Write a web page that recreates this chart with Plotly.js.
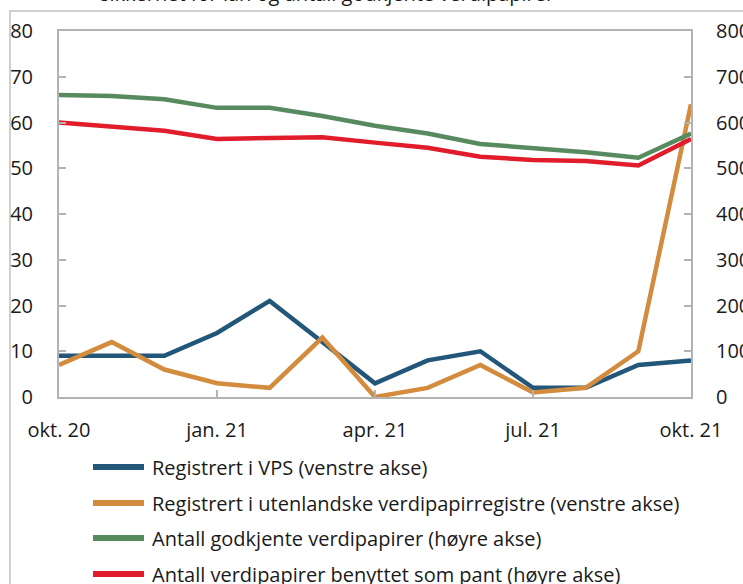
<!DOCTYPE html>
<html>
<head>
<meta charset="utf-8">
<script src="https://cdn.plot.ly/plotly-3.0.1.min.js"></script>
<style>html,body{margin:0;padding:0;background:#fff;}#chart{width:743px;height:584px;}</style>
</head>
<body>
<div id="chart"></div>
<script>
// Data
const months = ["okt. 20","nov. 20","des. 20","jan. 21","feb. 21","mar. 21","apr. 21","mai 21","jun. 21","jul. 21","aug. 21","sep. 21","okt. 21"];
const tickMonths = ["okt. 20","jan. 21","apr. 21","jul. 21","okt. 21"];
const registrertVPS = [9, 9, 9, 14, 21, 12, 3, 8, 10, 2, 2, 7, 8];
const registrertUtenlandske = [7, 12, 6, 3, 2, 13, 0, 2, 7, 1, 2, 10, 64];
const antallGodkjente = [660, 658, 651, 632, 632, 614, 593, 576, 553, 545, 535, 523, 576];
const antallPant = [600, 591, 582, 564, 565, 568, 556, 545, 525, 518, 516, 506, 564];
const seriesNames = [
  "Registrert i VPS (venstre akse)",
  "Registrert i utenlandske verdipapirregistre (venstre akse)",
  "Antall godkjente verdipapirer (høyre akse)",
  "Antall verdipapirer benyttet som pant (høyre akse)"
];
const seriesColors = ["#22577a", "#d38b3d", "#578a5e", "#e11d2b"];
const titleLine = "sikkerhet for lån og antall godkjente verdipapirer";

const font = "'Open Sans', 'Noto Sans', sans-serif";
const axisGray = "#b3b3b3";
const textColor = "#1a1a1a";

// plot-area geometry in pixels (for converting legend/frame placement to paper coords)
const W = 743, H = 584, L = 59, R = 691, T = 31, B = 397;
const px = v => (v - L) / (R - L);
const py = v => (B - v) / (B - T);

function tr(y, i, axis) {
  return {
    x: months, y: y, name: seriesNames[i], yaxis: axis, type: "scatter", mode: "lines",
    showlegend: false,
    line: {color: seriesColors[i], width: 4.5},
    hoverinfo: "skip"
  };
}
const data = [
  tr(registrertVPS, 0, "y"),
  tr(registrertUtenlandske, 1, "y"),
  tr(antallGodkjente, 2, "y2"),
  tr(antallPant, 3, "y2")
];

// legend drawn as shapes + annotations
const legendRows = [467, 503, 538, 574];
const legendShapes = seriesNames.map((n, i) => ({
  type: "line", xref: "paper", yref: "paper",
  x0: px(93), x1: px(144), y0: py(legendRows[i]), y1: py(legendRows[i]),
  line: {color: seriesColors[i], width: 6}
}));
const legendAnns = seriesNames.map((n, i) => ({
  text: n, xref: "paper", yref: "paper",
  x: px(150), xanchor: "left", y: py(legendRows[i]), yanchor: "middle",
  showarrow: false, font: {family: font, size: 20, color: textColor}
}));

const tickFont = {family: font, size: 20, color: textColor};

const layout = {
  width: W, height: H,
  margin: {l: L, r: W - R, t: T, b: H - B, pad: 0},
  paper_bgcolor: "#ffffff", plot_bgcolor: "#ffffff",
  font: {family: font, size: 20, color: textColor},
  showlegend: false,
  xaxis: {
    type: "category",
    range: [0, 12],
    tickmode: "array", tickvals: tickMonths, ticktext: tickMonths,
    ticks: "inside", ticklen: 7, tickwidth: 2, tickcolor: axisGray,
    showline: true, linecolor: axisGray, linewidth: 2, mirror: true,
    showgrid: false, zeroline: false,
    ticklabelstandoff: 14,
    tickfont: tickFont,
    automargin: false,
    fixedrange: true
  },
  yaxis: {
    range: [0, 80], dtick: 10, tick0: 0,
    ticks: "inside", ticklen: 7, tickwidth: 2, tickcolor: axisGray,
    showline: true, linecolor: axisGray, linewidth: 2,
    showgrid: false, zeroline: false,
    ticklabelstandoff: 20,
    tickfont: tickFont,
    automargin: false,
    fixedrange: true
  },
  yaxis2: {
    range: [0, 800], dtick: 100, tick0: 0,
    overlaying: "y", side: "right",
    ticks: "inside", ticklen: 7, tickwidth: 2, tickcolor: axisGray,
    showline: true, linecolor: axisGray, linewidth: 2,
    showgrid: false, zeroline: false,
    ticklabelstandoff: 19,
    tickfont: tickFont,
    automargin: false,
    fixedrange: true
  },
  shapes: [{
    type: "rect", xref: "paper", yref: "paper",
    x0: px(10), x1: px(780),
    y0: py(620), y1: py(11),
    line: {color: "#cfcfcf", width: 2}, fillcolor: "rgba(0,0,0,0)", layer: "below"
  }].concat(legendShapes),
  annotations: [{
    text: titleLine, xref: "paper", yref: "paper",
    x: px(98), xanchor: "left",
    y: py(-7), yanchor: "middle",
    showarrow: false,
    font: {family: font, size: 20, color: textColor}
  }].concat(legendAnns)
};

Plotly.newPlot("chart", data, layout, {displayModeBar: false, staticPlot: true});
</script>
</body>
</html>
